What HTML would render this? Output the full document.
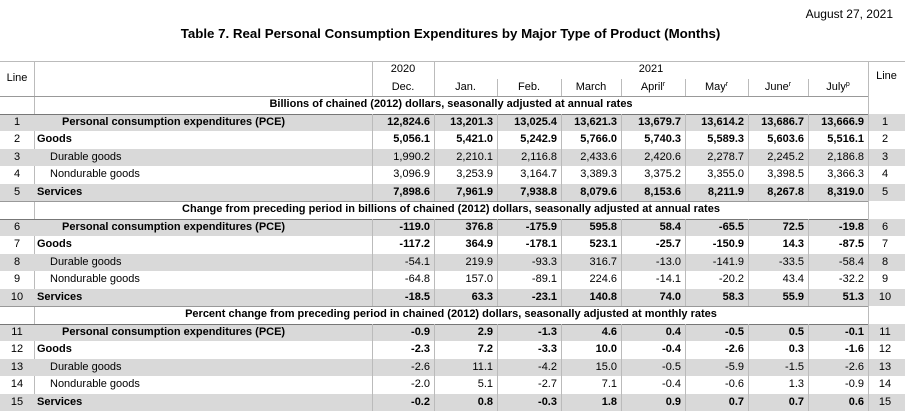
<!DOCTYPE html>
<html><head><meta charset="utf-8">
<style>
body{margin:0;width:905px;height:412px;background:#fff;font-family:"Liberation Sans",Arial,sans-serif;color:#000;position:relative;overflow:hidden}
.a{position:absolute;white-space:nowrap}
.t{font-size:11px;line-height:17.5px}
.b{font-weight:bold}
.r{text-align:right}
.c{text-align:center}
.hl{position:absolute;height:1px}
.vl{position:absolute;width:1px}
sup{font-size:7px;vertical-align:4px;line-height:0}
</style></head><body>
<div class="a" style="right:12px;top:7px;font-size:12px">August 27, 2021</div>
<div class="a b" style="left:-2px;width:905px;text-align:center;top:26px;font-size:13.3px">Table 7. Real Personal Consumption Expenditures by Major Type of Product (Months)</div>
<div id="tbl"></div>
<script>
const months = ["Dec.","Jan.","Feb.","March","April","May","June","July"];
const marks = ["","","","","r","r","r","p"];
const sections = ["Billions of chained (2012) dollars, seasonally adjusted at annual rates","Change from preceding period in billions of chained (2012) dollars, seasonally adjusted at annual rates","Percent change from preceding period in chained (2012) dollars, seasonally adjusted at monthly rates"];
const labels = ["Personal consumption expenditures (PCE)","Goods","Durable goods","Nondurable goods","Services"];
const levels = [["12,824.6","13,201.3","13,025.4","13,621.3","13,679.7","13,614.2","13,686.7","13,666.9"],["5,056.1","5,421.0","5,242.9","5,766.0","5,740.3","5,589.3","5,603.6","5,516.1"],["1,990.2","2,210.1","2,116.8","2,433.6","2,420.6","2,278.7","2,245.2","2,186.8"],["3,096.9","3,253.9","3,164.7","3,389.3","3,375.2","3,355.0","3,398.5","3,366.3"],["7,898.6","7,961.9","7,938.8","8,079.6","8,153.6","8,211.9","8,267.8","8,319.0"]];
const changes = [["-119.0","376.8","-175.9","595.8","58.4","-65.5","72.5","-19.8"],["-117.2","364.9","-178.1","523.1","-25.7","-150.9","14.3","-87.5"],["-54.1","219.9","-93.3","316.7","-13.0","-141.9","-33.5","-58.4"],["-64.8","157.0","-89.1","224.6","-14.1","-20.2","43.4","-32.2"],["-18.5","63.3","-23.1","140.8","74.0","58.3","55.9","51.3"]];
const pcts = [["-0.9","2.9","-1.3","4.6","0.4","-0.5","0.5","-0.1"],["-2.3","7.2","-3.3","10.0","-0.4","-2.6","0.3","-1.6"],["-2.6","11.1","-4.2","15.0","-0.5","-5.9","-1.5","-2.6"],["-2.0","5.1","-2.7","7.1","-0.4","-0.6","1.3","-0.9"],["-0.2","0.8","-0.3","1.8","0.9","0.7","0.7","0.6"]];
const data = [levels, changes, pcts];

const X=[0,34,372,434,497,561,621,685,748,808,868,905];
const RH=17.5, Y0=96;
const T=document.getElementById('tbl');
function add(html,style,cls,name){const d=document.createElement('div');d.className=cls||'a';d.style.cssText=style;d.innerHTML=html;


T.appendChild(d);return d;}
add('','left:0;top:61px;width:905px;background:#bbb','hl','header-top-rule');
add('Line','left:0;top:70px;width:34px','a t c','line-header-left');
add('Line','left:868px;top:68px;width:37px','a t c','line-header-right');
add('2020','left:372px;top:61px;width:62px','a t c','year-2020');
add('2021','left:434px;top:61px;width:434px','a t c','year-2021');
for(let i=0;i<8;i++){add(months[i]+(marks[i]?'<sup>'+marks[i]+'</sup>':''),'left:'+X[i+2]+'px;top:79px;width:'+(X[i+3]-X[i+2])+'px','a t c','month-'+i);}
add('','left:34px;top:61px;height:350px;background:#bbb','vl','line-col-border');
add('','left:372px;top:61px;height:35px;background:#bbb','vl','dec-left-border');
add('','left:434px;top:61px;height:35px;background:#bbb','vl','dec-right-border');
for(let i=4;i<=10;i++){add('','left:'+X[i]+'px;top:'+(i==10?61:79)+'px;height:'+(i==10?350:17)+'px;background:#bbb','vl','header-sep');}
let row=0;
for(let s=0;s<3;s++){
  const ys=Y0+row*RH;
  add('','left:0;top:'+ys+'px;width:868px;background:#999','hl','section-rule');
  add(sections[s],'left:34px;top:'+ys+'px;width:834px','a t b c','section-title-'+s);
  row++;
  for(let r=0;r<5;r++){
    const y=Y0+row*RH, ln=s*5+r+1, shade=(r%2==0);
    if(shade) add('','left:0;top:'+y+'px;width:905px;height:'+RH+'px;background:#d9d9d9','a','row-shade');
    if(r==0) add('','left:0;top:'+y+'px;width:868px;background:#777','hl','row-rule');
    add(''+ln,'left:0;top:'+y+'px;width:34px','a t c','line-number');
    add(''+ln,'left:868px;top:'+y+'px;width:34px','a t c','line-number-right');
    const ind=[28,3,16,16,3][r], bold=(r==0||r==1||r==4);
    add(labels[r],'left:'+(34+ind)+'px;top:'+y+'px','a t'+(bold?' b':''),'row-label');
    for(let c=0;c<8;c++){
      add(data[s][r][c],'left:'+X[c+2]+'px;top:'+y+'px;width:'+(X[c+3]-X[c+2]-4)+'px','a t r'+(bold?' b':''),'value');
    }
    row++;
  }
}
for(let i=2;i<=10;i++){
  for(let s=0;s<3;s++){const y=Y0+(s*6+1)*RH;add('','left:'+X[i]+'px;top:'+y+'px;height:'+(5*RH)+'px;background:#bbb','vl','col-sep');}
}
add('','left:868px;top:61px;height:350px;background:#bbb','vl','right-line-border');
</script>
</body></html>
